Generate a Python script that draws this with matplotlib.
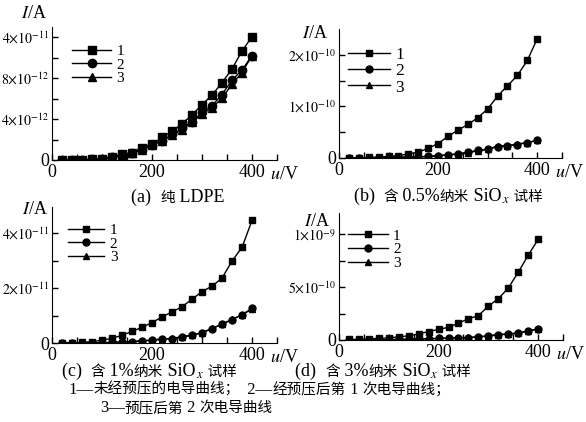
import matplotlib
matplotlib.use("Agg")
import matplotlib.pyplot as plt
from matplotlib.offsetbox import TextArea, HPacker, AnnotationBbox

plt.rcParams['font.family'] = ['Liberation Serif', 'Noto Sans CJK SC']
plt.rcParams['mathtext.fontset'] = 'stix'

# applied voltage (V)
volts = [20, 40, 60, 80, 100, 120, 140, 160, 180, 200,
         220, 240, 260, 280, 300, 320, 340, 360, 380, 400]

# (a) pure LDPE, current in 1e-12 A
a_1 = [0, 0, 0, 0.05, 0.1, 0.3, 0.55, 0.7, 1.15, 1.55,
       2.2, 2.8, 3.55, 4.4, 5.4, 6.35, 7.55, 8.9, 10.65, 12.05]
a_2 = [0, 0, 0, 0.05, 0.1, 0.25, 0.5, 0.65, 1.05, 1.5,
       1.9, 2.5, 3.1, 3.75, 4.65, 5.3, 6.4, 7.8, 8.8, 10.2]
a_3 = [0, 0, 0, 0.05, 0.1, 0.25, 0.5, 0.65, 1.0, 1.45,
       1.85, 2.4, 2.95, 3.7, 4.5, 5.1, 6.05, 7.4, 8.55, 10.2]

# (b) 0.5% SiOx, current in 1e-10 A
b_1 = [0, 0, 0.01, 0.02, 0.03, 0.045, 0.08, 0.11, 0.19, 0.28,
       0.42, 0.54, 0.65, 0.78, 0.95, 1.2, 1.4, 1.6, 1.89, 2.31]
b_2 = [0, 0, 0, 0.005, 0.01, 0.015, 0.02, 0.025, 0.03, 0.045,
       0.065, 0.08, 0.11, 0.15, 0.17, 0.22, 0.24, 0.26, 0.30, 0.34]
b_3 = [0, 0, 0, 0.005, 0.01, 0.012, 0.018, 0.022, 0.03, 0.04,
       0.06, 0.075, 0.10, 0.14, 0.17, 0.23, 0.24, 0.27, 0.30, 0.34]

# (c) 1% SiOx, current in 1e-11 A
c_1 = [0, 0, 0.02, 0.05, 0.1, 0.17, 0.28, 0.42, 0.57, 0.74,
       0.95, 1.13, 1.32, 1.59, 1.87, 2.07, 2.36, 2.98, 3.48, 4.46]
c_2 = [0, 0, 0, 0, 0.01, 0.02, 0.03, 0.05, 0.07, 0.1,
       0.13, 0.16, 0.21, 0.28, 0.37, 0.52, 0.68, 0.85, 1.03, 1.26]
c_3 = [0, 0, 0, 0, 0.01, 0.02, 0.03, 0.05, 0.08, 0.11,
       0.15, 0.17, 0.23, 0.29, 0.38, 0.53, 0.69, 0.86, 1.02, 1.24]

# (d) 3% SiOx, current in 1e-9 A
d_1 = [0.005, 0.005, 0.01, 0.016, 0.02, 0.03, 0.04, 0.057, 0.08, 0.1,
       0.12, 0.16, 0.2, 0.23, 0.32, 0.39, 0.49, 0.64, 0.8, 0.95]
d_2 = [0, 0, 0, 0, 0.003, 0.005, 0.008, 0.01, 0.012, 0.015,
       0.018, 0.02, 0.022, 0.029, 0.038, 0.048, 0.057, 0.064, 0.086, 0.105]
d_3 = [0, 0, 0, 0, 0.003, 0.005, 0.007, 0.01, 0.012, 0.014,
       0.017, 0.02, 0.024, 0.03, 0.04, 0.05, 0.058, 0.066, 0.085, 0.103]

x_ticks = [0, 50, 100, 150, 200, 250, 300, 350, 400, 450]
x_labels = ['0', '', '', '', '200', '', '', '', '400', '']

y_ticks_a = [0, 2, 4, 6, 8, 10, 12]
y_labels_a = ['0', '', r'$4{\times}10^{-12}$', '', r'$8{\times}10^{-12}$', '', r'$4{\times}10^{-11}$']
y_ticks_b = [0, 0.5, 1.0, 1.5, 2.0]
y_labels_b = ['0', '', r'$1{\times}10^{-10}$', '', r'$2{\times}10^{-10}$']
y_ticks_c = [0, 1, 2, 3, 4]
y_labels_c = ['0', '', r'$2{\times}10^{-11}$', '', r'$4{\times}10^{-11}$']
y_ticks_d = [0, 0.25, 0.5, 0.75, 1.0]
y_labels_d = ['0', '', r'$5{\times}10^{-10}$', '', r'$1{\times}10^{-9}$']

W, H = 586, 422
fig = plt.figure(figsize=(W / 100, H / 100), dpi=100)
PT = 0.72  # points per pixel


def make_axes(l, r, t, b):
    return fig.add_axes([l / W, 1 - b / H, (r - l) / W, (b - t) / H])


def panel(ax, s1, s2, s3, ymax, yt, yl, leg_anchor, leg_fs, hlen, ms, ia_off):
    ax.plot(volts, s1, 'k-', marker='s', ms=ms, lw=1, label='1')
    ax.plot(volts, s2, 'k-', marker='o', ms=ms, lw=1, label='2')
    ax.plot(volts, s3, 'k-', marker='^', ms=ms, lw=1, label='3')
    ax.set_xlim(0, 450)
    ax.set_ylim(0, ymax)
    ax.set_xticks(x_ticks)
    ax.set_xticklabels(x_labels)
    ax.set_yticks(yt)
    ax.set_yticklabels(yl)
    ax.tick_params(direction='in', length=4, width=1)
    ax.tick_params(axis='x', labelsize=13, pad=3)
    ax.tick_params(axis='y', labelsize=10, pad=2)
    ax.get_yticklabels()[0].set_fontsize(13)
    ax.spines['top'].set_visible(False)
    ax.spines['right'].set_visible(False)
    ax.annotate(r'$u$/V', xy=(1, 0), xycoords='axes fraction', xytext=(7 * PT, -4),
                textcoords='offset points', ha='center', va='top', fontsize=13)
    ax.annotate(r'$I$/A', xy=(0, 1), xycoords='axes fraction',
                xytext=(ia_off[0] * PT, ia_off[1] * PT),
                textcoords='offset points', ha='right', va='center', fontsize=13)
    ax.legend(loc='upper left', bbox_to_anchor=leg_anchor, frameon=False,
              fontsize=leg_fs, handlelength=hlen, handletextpad=0.35,
              labelspacing=0.0, borderaxespad=0, borderpad=0)


ax_a = make_axes(52, 277, 27, 160)
panel(ax_a, a_1, a_2, a_3, 13, y_ticks_a, y_labels_a, (0.09, 0.87), 11, 2.55, 6, (-5, 14))
ax_b = make_axes(339, 562, 29, 158)
panel(ax_b, b_1, b_2, b_3, 2.5, y_ticks_b, y_labels_b, (0.04, 0.86), 12.5, 2.4, 5, (-11, -4))
ax_c = make_axes(52, 277, 207, 343)
panel(ax_c, c_1, c_2, c_3, 4.95, y_ticks_c, y_labels_c, (0.07, 0.88), 11, 2.4, 5, (-4, -3))
ax_d = make_axes(339, 563, 213, 340)
panel(ax_d, d_1, d_2, d_3, 1.2, y_ticks_d, y_labels_d, (0.04, 0.875), 11, 2.6, 5, (-9, -8))


def text_line(parts, x, y, align=0.5, lat=13):
    boxes = []
    for txt, kind in parts:
        size = 10.5 if kind == 'cjk' else lat
        boxes.append(TextArea(txt, textprops=dict(fontsize=size)))
    hp = HPacker(children=boxes, align='baseline', pad=0, sep=0)
    ab = AnnotationBbox(hp, (x / W, 1 - y / H), xycoords='figure fraction',
                        frameon=False, box_alignment=(align, 0.5), pad=0)
    fig.add_artist(ab)


text_line([('(a)  ', 'lat'), ('纯', 'cjk'), (' LDPE', 'lat')], 178, 197)
text_line([('(b)  ', 'lat'), ('含', 'cjk'), (' 0.5%', 'lat'), ('纳米', 'cjk'),
           (' SiO', 'lat'), (r'$_{x}$', 'lat'), (' 试样', 'cjk')], 448, 197)
text_line([('(c)  ', 'lat'), ('含', 'cjk'), (' 1%', 'lat'), ('纳米', 'cjk'),
           (' SiO', 'lat'), (r'$_{x}$', 'lat'), (' 试样', 'cjk')], 149, 372)
text_line([('(d)  ', 'lat'), ('含', 'cjk'), (' 3%', 'lat'), ('纳米', 'cjk'),
           (' SiO', 'lat'), (r'$_{x}$', 'lat'), (' 试样', 'cjk')], 383, 372)
text_line([('1—', 'lat'), ('未经预压的电导曲线；', 'cjk'), ('  2—', 'lat'),
           ('经预压后第', 'cjk'), (' 1 ', 'lat'), ('次电导曲线；', 'cjk')], 68, 390,
          align=0, lat=12)
text_line([('3—', 'lat'), ('预压后第', 'cjk'), (' 2 ', 'lat'), ('次电导曲线', 'cjk')],
          100, 408, align=0, lat=12)

fig.savefig('out.png', dpi=100)
